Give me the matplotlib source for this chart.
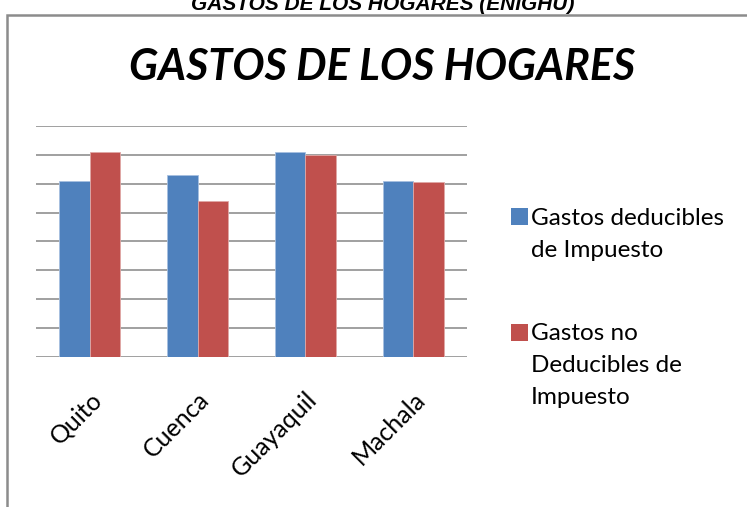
import matplotlib
matplotlib.use("Agg")
import matplotlib.pyplot as plt
from matplotlib.patches import Rectangle
import numpy as np

# ==========================
# DATA
# ==========================
ciudades = ["Quito", "Cuenca", "Guayaquil", "Machala"]
deducibles = [6.1, 6.3, 7.1, 6.1]
no_deducibles = [7.1, 5.4, 7.0, 6.05]
series_labels = ["Gastos deducibles\nde Impuesto", "Gastos no\nDeducibles de\nImpuesto"]
series_colors = ["#4F81BD", "#C0504D"]
edge_colors = ["#A7C0E0", "#E0A8A6"]

titulo_doc = "GASTOS DE LOS HOGARES (ENIGHU)"
titulo = "GASTOS DE LOS HOGARES"

W, H = 747, 507
fig = plt.figure(figsize=(W / 100, H / 100), dpi=100)


def fx(px):
    return px / W


def fy(py):
    return 1 - py / H


# marco gris del grafico (sale por la derecha y abajo)
fig.patches.append(Rectangle((fx(7), fy(H + 20)), fx(W + 20), fy(14.5) - fy(H + 20),
                             transform=fig.transFigure, fill=False,
                             edgecolor="#8C8C8C", linewidth=1.8))

# titulo del documento (cortado arriba en el original)
fig.text(fx(383), fy(9.5), titulo_doc, ha="center", va="baseline",
         fontsize=15, fontweight="bold", fontstyle="italic",
         family="Liberation Sans")

# titulo del grafico
fig.text(fx(382), fy(80), titulo, ha="center", va="baseline",
         fontsize=31, fontweight="bold", fontstyle="italic", family="Lato")

# ejes
ax = fig.add_axes([fx(36), fy(357), fx(467) - fx(36), fy(126) - fy(357)])
x = np.arange(len(ciudades))
bw = 0.283
for i, vals in enumerate([deducibles, no_deducibles]):
    ax.bar(x + (i - 0.5) * bw, vals, bw, color=series_colors[i],
           edgecolor=edge_colors[i], linewidth=0.6, zorder=3)

ax.set_xlim(-0.5, len(ciudades) - 0.5)
ax.set_ylim(0, 8)
ax.set_yticks(range(0, 9))
ax.set_yticklabels([])
ax.grid(axis="y", color="#868686", linewidth=1.1, zorder=1)
for s in ax.spines.values():
    s.set_visible(False)
ax.set_xticks(x)
ax.set_xticklabels(ciudades, rotation=45, ha="right", rotation_mode="anchor",
                   fontsize=18, family="Lato")
ax.tick_params(length=0, pad=22)
for lbl in ax.get_xticklabels():
    lbl.set_x(lbl.get_position()[0])

# leyenda dibujada a mano
legend_top = [217, 332]
sq = 17
for i, lab in enumerate(series_labels):
    yc = legend_top[i]
    fig.patches.append(Rectangle((fx(511), fy(yc + sq / 2)), fx(sq), fy(0) - fy(sq),
                                 transform=fig.transFigure,
                                 facecolor=series_colors[i], edgecolor="none"))
    for j, line in enumerate(lab.split("\n")):
        fig.text(fx(531), fy(yc + 8 + 32 * j), line, ha="left", va="baseline",
                 fontsize=17.5, family="Lato")

fig.savefig("out.png", dpi=100)
